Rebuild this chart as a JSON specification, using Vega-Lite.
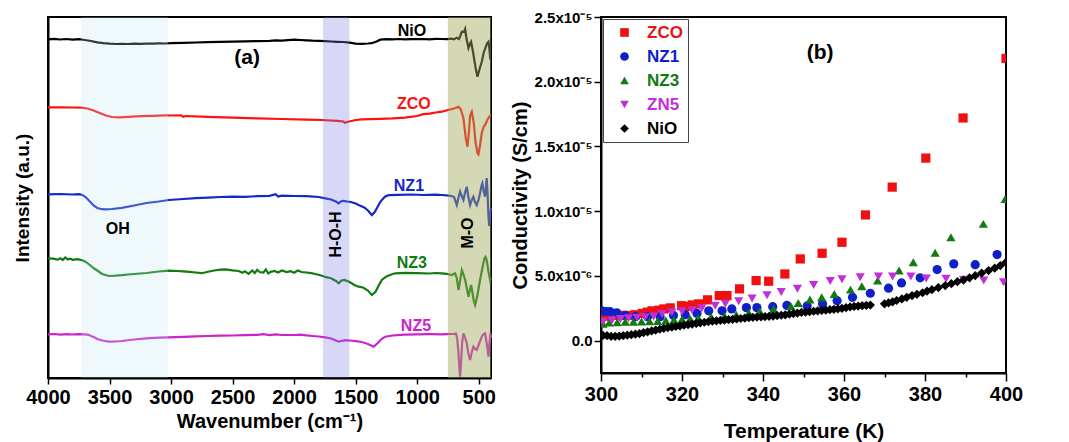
{
  "$schema": "https://vega.github.io/schema/vega-lite/v6.json",
  "background": "white",
  "padding": {"left": 12, "top": 9, "right": 5, "bottom": 0},
  "bounds": "flush",
  "spacing": 110,
  "datasets": {
    "ftir": [
      {"s":"NiO","wn":4000,"v":338.7},{"s":"NiO","wn":3950,"v":339.2},{"s":"NiO","wn":3900,"v":338.5},{"s":"NiO","wn":3850,"v":339.0},{"s":"NiO","wn":3800,"v":338.4},{"s":"NiO","wn":3750,"v":338.8},{"s":"NiO","wn":3700,"v":338.0},{"s":"NiO","wn":3650,"v":337.0},{"s":"NiO","wn":3600,"v":335.6},{"s":"NiO","wn":3550,"v":334.8},{"s":"NiO","wn":3500,"v":334.3},{"s":"NiO","wn":3450,"v":334.0},{"s":"NiO","wn":3400,"v":334.2},{"s":"NiO","wn":3350,"v":334.0},{"s":"NiO","wn":3300,"v":334.3},{"s":"NiO","wn":3250,"v":334.1},{"s":"NiO","wn":3200,"v":334.4},{"s":"NiO","wn":3150,"v":334.3},{"s":"NiO","wn":3100,"v":334.6},{"s":"NiO","wn":3050,"v":334.5},{"s":"NiO","wn":3000,"v":334.8},{"s":"NiO","wn":2900,"v":335.2},{"s":"NiO","wn":2800,"v":335.5},{"s":"NiO","wn":2700,"v":335.8},{"s":"NiO","wn":2600,"v":336.1},{"s":"NiO","wn":2500,"v":336.3},{"s":"NiO","wn":2400,"v":336.6},{"s":"NiO","wn":2300,"v":336.9},{"s":"NiO","wn":2200,"v":337.2},{"s":"NiO","wn":2150,"v":337.6},{"s":"NiO","wn":2100,"v":337.3},{"s":"NiO","wn":2050,"v":337.9},{"s":"NiO","wn":2000,"v":338.3},{"s":"NiO","wn":1950,"v":338.0},{"s":"NiO","wn":1900,"v":337.6},{"s":"NiO","wn":1850,"v":337.3},{"s":"NiO","wn":1800,"v":337.2},{"s":"NiO","wn":1750,"v":336.8},{"s":"NiO","wn":1700,"v":336.5},{"s":"NiO","wn":1650,"v":336.2},{"s":"NiO","wn":1600,"v":336.0},{"s":"NiO","wn":1550,"v":335.3},{"s":"NiO","wn":1500,"v":334.3},{"s":"NiO","wn":1450,"v":334.2},{"s":"NiO","wn":1400,"v":334.5},{"s":"NiO","wn":1370,"v":334.8},{"s":"NiO","wn":1330,"v":336.5},{"s":"NiO","wn":1300,"v":338.3},{"s":"NiO","wn":1250,"v":338.8},{"s":"NiO","wn":1200,"v":338.7},{"s":"NiO","wn":1150,"v":339.0},{"s":"NiO","wn":1100,"v":338.6},{"s":"NiO","wn":1050,"v":338.9},{"s":"NiO","wn":1000,"v":338.8},{"s":"NiO","wn":950,"v":339.0},{"s":"NiO","wn":900,"v":338.7},{"s":"NiO","wn":850,"v":339.2},{"s":"NiO","wn":800,"v":339.0},{"s":"NiO","wn":760,"v":338.8},{"s":"NiO","wn":720,"v":339.3},{"s":"NiO","wn":700,"v":338.6},{"s":"NiO","wn":680,"v":340.3},{"s":"NiO","wn":660,"v":339.0},{"s":"NiO","wn":650,"v":342.0},{"s":"NiO","wn":637,"v":346.3},{"s":"NiO","wn":620,"v":346.0},{"s":"NiO","wn":610,"v":349.0},{"s":"NiO","wn":600,"v":340.0},{"s":"NiO","wn":583,"v":330.0},{"s":"NiO","wn":572,"v":334.0},{"s":"NiO","wn":562,"v":336.3},{"s":"NiO","wn":552,"v":330.0},{"s":"NiO","wn":542,"v":323.0},{"s":"NiO","wn":525,"v":310.0},{"s":"NiO","wn":510,"v":301.3},{"s":"NiO","wn":495,"v":308.0},{"s":"NiO","wn":475,"v":316.3},{"s":"NiO","wn":460,"v":325.0},{"s":"NiO","wn":442,"v":331.3},{"s":"NiO","wn":430,"v":335.0},{"s":"NiO","wn":420,"v":336.3},{"s":"NiO","wn":412,"v":328.0},{"s":"NiO","wn":407,"v":319.7},{"s":"NiO","wn":400,"v":318.0},

      {"s":"ZCO","wn":4000,"v":270.7},{"s":"ZCO","wn":3900,"v":270.6},{"s":"ZCO","wn":3800,"v":270.5},{"s":"ZCO","wn":3730,"v":270.3},{"s":"ZCO","wn":3680,"v":269.5},{"s":"ZCO","wn":3630,"v":267.5},{"s":"ZCO","wn":3580,"v":265.0},{"s":"ZCO","wn":3530,"v":262.5},{"s":"ZCO","wn":3480,"v":261.0},{"s":"ZCO","wn":3424,"v":260.7},{"s":"ZCO","wn":3350,"v":261.2},{"s":"ZCO","wn":3250,"v":261.8},{"s":"ZCO","wn":3150,"v":262.2},{"s":"ZCO","wn":3050,"v":262.6},{"s":"ZCO","wn":3000,"v":262.5},{"s":"ZCO","wn":2920,"v":262.7},{"s":"ZCO","wn":2900,"v":261.2},{"s":"ZCO","wn":2880,"v":262.0},{"s":"ZCO","wn":2700,"v":261.2},{"s":"ZCO","wn":2500,"v":260.4},{"s":"ZCO","wn":2300,"v":259.6},{"s":"ZCO","wn":2100,"v":259.0},{"s":"ZCO","wn":1900,"v":258.3},{"s":"ZCO","wn":1775,"v":258.0},{"s":"ZCO","wn":1650,"v":257.2},{"s":"ZCO","wn":1600,"v":256.5},{"s":"ZCO","wn":1587,"v":255.3},{"s":"ZCO","wn":1560,"v":256.2},{"s":"ZCO","wn":1500,"v":258.0},{"s":"ZCO","wn":1449,"v":258.7},{"s":"ZCO","wn":1300,"v":259.2},{"s":"ZCO","wn":1200,"v":259.6},{"s":"ZCO","wn":1100,"v":260.4},{"s":"ZCO","wn":1000,"v":262.0},{"s":"ZCO","wn":950,"v":263.8},{"s":"ZCO","wn":900,"v":264.3},{"s":"ZCO","wn":850,"v":265.5},{"s":"ZCO","wn":800,"v":266.3},{"s":"ZCO","wn":750,"v":268.0},{"s":"ZCO","wn":700,"v":269.5},{"s":"ZCO","wn":664,"v":271.3},{"s":"ZCO","wn":645,"v":268.5},{"s":"ZCO","wn":624,"v":259.7},{"s":"ZCO","wn":605,"v":240.0},{"s":"ZCO","wn":591,"v":231.3},{"s":"ZCO","wn":580,"v":245.0},{"s":"ZCO","wn":570,"v":262.0},{"s":"ZCO","wn":556,"v":266.3},{"s":"ZCO","wn":540,"v":255.0},{"s":"ZCO","wn":525,"v":235.0},{"s":"ZCO","wn":510,"v":225.0},{"s":"ZCO","wn":502,"v":223.7},{"s":"ZCO","wn":490,"v":232.0},{"s":"ZCO","wn":475,"v":245.0},{"s":"ZCO","wn":460,"v":251.0},{"s":"ZCO","wn":448,"v":253.0},{"s":"ZCO","wn":430,"v":258.0},{"s":"ZCO","wn":415,"v":261.0},{"s":"ZCO","wn":400,"v":263.0},

      {"s":"NZ1","wn":4000,"v":183.7},{"s":"NZ1","wn":3900,"v":184.0},{"s":"NZ1","wn":3800,"v":183.5},{"s":"NZ1","wn":3750,"v":183.8},{"s":"NZ1","wn":3720,"v":183.0},{"s":"NZ1","wn":3690,"v":180.5},{"s":"NZ1","wn":3660,"v":176.5},{"s":"NZ1","wn":3630,"v":172.5},{"s":"NZ1","wn":3600,"v":170.0},{"s":"NZ1","wn":3560,"v":168.8},{"s":"NZ1","wn":3530,"v":168.7},{"s":"NZ1","wn":3480,"v":169.0},{"s":"NZ1","wn":3400,"v":170.2},{"s":"NZ1","wn":3300,"v":172.5},{"s":"NZ1","wn":3200,"v":175.0},{"s":"NZ1","wn":3100,"v":176.5},{"s":"NZ1","wn":3018,"v":178.0},{"s":"NZ1","wn":2900,"v":179.0},{"s":"NZ1","wn":2800,"v":179.8},{"s":"NZ1","wn":2700,"v":180.3},{"s":"NZ1","wn":2600,"v":181.0},{"s":"NZ1","wn":2500,"v":181.3},{"s":"NZ1","wn":2400,"v":181.2},{"s":"NZ1","wn":2300,"v":181.8},{"s":"NZ1","wn":2200,"v":182.2},{"s":"NZ1","wn":2150,"v":183.8},{"s":"NZ1","wn":2130,"v":181.5},{"s":"NZ1","wn":2100,"v":182.4},{"s":"NZ1","wn":2000,"v":182.0},{"s":"NZ1","wn":1900,"v":181.8},{"s":"NZ1","wn":1800,"v":181.0},{"s":"NZ1","wn":1747,"v":179.7},{"s":"NZ1","wn":1700,"v":178.5},{"s":"NZ1","wn":1660,"v":176.5},{"s":"NZ1","wn":1638,"v":174.7},{"s":"NZ1","wn":1620,"v":176.5},{"s":"NZ1","wn":1600,"v":177.2},{"s":"NZ1","wn":1570,"v":176.5},{"s":"NZ1","wn":1540,"v":176.0},{"s":"NZ1","wn":1500,"v":174.5},{"s":"NZ1","wn":1476,"v":173.0},{"s":"NZ1","wn":1430,"v":170.5},{"s":"NZ1","wn":1400,"v":167.5},{"s":"NZ1","wn":1368,"v":163.0},{"s":"NZ1","wn":1345,"v":166.0},{"s":"NZ1","wn":1320,"v":171.5},{"s":"NZ1","wn":1300,"v":176.0},{"s":"NZ1","wn":1287,"v":178.0},{"s":"NZ1","wn":1260,"v":181.5},{"s":"NZ1","wn":1230,"v":182.8},{"s":"NZ1","wn":1150,"v":183.2},{"s":"NZ1","wn":1050,"v":183.5},{"s":"NZ1","wn":950,"v":183.0},{"s":"NZ1","wn":850,"v":183.4},{"s":"NZ1","wn":800,"v":183.0},{"s":"NZ1","wn":760,"v":182.6},{"s":"NZ1","wn":720,"v":182.0},{"s":"NZ1","wn":700,"v":181.0},{"s":"NZ1","wn":678,"v":173.0},{"s":"NZ1","wn":665,"v":180.0},{"s":"NZ1","wn":651,"v":186.3},{"s":"NZ1","wn":638,"v":182.0},{"s":"NZ1","wn":624,"v":178.0},{"s":"NZ1","wn":610,"v":186.0},{"s":"NZ1","wn":597,"v":191.3},{"s":"NZ1","wn":585,"v":182.0},{"s":"NZ1","wn":570,"v":173.0},{"s":"NZ1","wn":556,"v":178.0},{"s":"NZ1","wn":543,"v":181.3},{"s":"NZ1","wn":530,"v":176.0},{"s":"NZ1","wn":516,"v":173.0},{"s":"NZ1","wn":502,"v":178.0},{"s":"NZ1","wn":489,"v":184.7},{"s":"NZ1","wn":478,"v":192.0},{"s":"NZ1","wn":470,"v":194.7},{"s":"NZ1","wn":460,"v":187.0},{"s":"NZ1","wn":448,"v":181.3},{"s":"NZ1","wn":442,"v":190.0},{"s":"NZ1","wn":435,"v":200.0},{"s":"NZ1","wn":428,"v":185.0},{"s":"NZ1","wn":420,"v":160.0},{"s":"NZ1","wn":414,"v":152.0},{"s":"NZ1","wn":405,"v":165.0},{"s":"NZ1","wn":400,"v":170.0},

      {"s":"NZ3","wn":4000,"v":119.7},{"s":"NZ3","wn":3960,"v":119.3},{"s":"NZ3","wn":3920,"v":118.4},{"s":"NZ3","wn":3900,"v":119.8},{"s":"NZ3","wn":3880,"v":118.0},{"s":"NZ3","wn":3860,"v":120.5},{"s":"NZ3","wn":3840,"v":118.6},{"s":"NZ3","wn":3820,"v":119.4},{"s":"NZ3","wn":3800,"v":118.2},{"s":"NZ3","wn":3760,"v":118.8},{"s":"NZ3","wn":3720,"v":117.6},{"s":"NZ3","wn":3695,"v":116.3},{"s":"NZ3","wn":3660,"v":113.0},{"s":"NZ3","wn":3630,"v":110.0},{"s":"NZ3","wn":3600,"v":107.5},{"s":"NZ3","wn":3560,"v":104.0},{"s":"NZ3","wn":3505,"v":102.0},{"s":"NZ3","wn":3450,"v":102.3},{"s":"NZ3","wn":3400,"v":102.8},{"s":"NZ3","wn":3350,"v":103.5},{"s":"NZ3","wn":3300,"v":104.0},{"s":"NZ3","wn":3200,"v":105.0},{"s":"NZ3","wn":3100,"v":106.5},{"s":"NZ3","wn":3018,"v":107.3},{"s":"NZ3","wn":2950,"v":107.0},{"s":"NZ3","wn":2900,"v":106.6},{"s":"NZ3","wn":2850,"v":106.2},{"s":"NZ3","wn":2800,"v":105.5},{"s":"NZ3","wn":2750,"v":104.8},{"s":"NZ3","wn":2700,"v":106.2},{"s":"NZ3","wn":2650,"v":107.5},{"s":"NZ3","wn":2600,"v":108.3},{"s":"NZ3","wn":2558,"v":108.7},{"s":"NZ3","wn":2500,"v":107.6},{"s":"NZ3","wn":2450,"v":107.0},{"s":"NZ3","wn":2420,"v":105.2},{"s":"NZ3","wn":2400,"v":106.6},{"s":"NZ3","wn":2370,"v":104.2},{"s":"NZ3","wn":2340,"v":107.5},{"s":"NZ3","wn":2320,"v":105.0},{"s":"NZ3","wn":2300,"v":108.2},{"s":"NZ3","wn":2280,"v":106.0},{"s":"NZ3","wn":2250,"v":105.4},{"s":"NZ3","wn":2230,"v":108.5},{"s":"NZ3","wn":2210,"v":104.5},{"s":"NZ3","wn":2190,"v":106.2},{"s":"NZ3","wn":2160,"v":107.0},{"s":"NZ3","wn":2130,"v":105.5},{"s":"NZ3","wn":2100,"v":107.5},{"s":"NZ3","wn":2060,"v":106.0},{"s":"NZ3","wn":2030,"v":106.8},{"s":"NZ3","wn":2000,"v":105.2},{"s":"NZ3","wn":1970,"v":107.5},{"s":"NZ3","wn":1940,"v":106.0},{"s":"NZ3","wn":1900,"v":105.5},{"s":"NZ3","wn":1860,"v":104.8},{"s":"NZ3","wn":1828,"v":104.0},{"s":"NZ3","wn":1780,"v":102.5},{"s":"NZ3","wn":1740,"v":100.8},{"s":"NZ3","wn":1700,"v":99.8},{"s":"NZ3","wn":1660,"v":97.0},{"s":"NZ3","wn":1638,"v":94.7},{"s":"NZ3","wn":1615,"v":97.5},{"s":"NZ3","wn":1590,"v":98.0},{"s":"NZ3","wn":1550,"v":96.0},{"s":"NZ3","wn":1510,"v":93.0},{"s":"NZ3","wn":1476,"v":91.3},{"s":"NZ3","wn":1440,"v":90.5},{"s":"NZ3","wn":1400,"v":87.5},{"s":"NZ3","wn":1368,"v":83.0},{"s":"NZ3","wn":1340,"v":86.0},{"s":"NZ3","wn":1310,"v":93.0},{"s":"NZ3","wn":1287,"v":98.0},{"s":"NZ3","wn":1250,"v":101.5},{"s":"NZ3","wn":1200,"v":104.0},{"s":"NZ3","wn":1178,"v":104.7},{"s":"NZ3","wn":1100,"v":105.2},{"s":"NZ3","wn":1000,"v":104.8},{"s":"NZ3","wn":900,"v":104.5},{"s":"NZ3","wn":850,"v":105.0},{"s":"NZ3","wn":800,"v":104.7},{"s":"NZ3","wn":760,"v":104.2},{"s":"NZ3","wn":720,"v":103.0},{"s":"NZ3","wn":692,"v":104.7},{"s":"NZ3","wn":678,"v":100.0},{"s":"NZ3","wn":664,"v":88.0},{"s":"NZ3","wn":650,"v":98.0},{"s":"NZ3","wn":637,"v":108.0},{"s":"NZ3","wn":625,"v":104.0},{"s":"NZ3","wn":610,"v":98.0},{"s":"NZ3","wn":597,"v":90.0},{"s":"NZ3","wn":583,"v":81.3},{"s":"NZ3","wn":572,"v":88.0},{"s":"NZ3","wn":562,"v":93.0},{"s":"NZ3","wn":550,"v":85.0},{"s":"NZ3","wn":540,"v":77.0},{"s":"NZ3","wn":529,"v":73.0},{"s":"NZ3","wn":510,"v":83.0},{"s":"NZ3","wn":489,"v":98.0},{"s":"NZ3","wn":470,"v":110.0},{"s":"NZ3","wn":453,"v":119.7},{"s":"NZ3","wn":445,"v":121.0},{"s":"NZ3","wn":435,"v":118.0},{"s":"NZ3","wn":420,"v":106.0},{"s":"NZ3","wn":407,"v":98.0},{"s":"NZ3","wn":400,"v":100.0},

      {"s":"NZ5","wn":4000,"v":43.7},{"s":"NZ5","wn":3950,"v":44.0},{"s":"NZ5","wn":3900,"v":43.4},{"s":"NZ5","wn":3850,"v":43.9},{"s":"NZ5","wn":3800,"v":43.5},{"s":"NZ5","wn":3750,"v":43.8},{"s":"NZ5","wn":3700,"v":43.7},{"s":"NZ5","wn":3670,"v":43.2},{"s":"NZ5","wn":3650,"v":42.0},{"s":"NZ5","wn":3620,"v":40.5},{"s":"NZ5","wn":3600,"v":39.0},{"s":"NZ5","wn":3550,"v":37.2},{"s":"NZ5","wn":3505,"v":36.3},{"s":"NZ5","wn":3450,"v":36.5},{"s":"NZ5","wn":3400,"v":37.0},{"s":"NZ5","wn":3300,"v":38.5},{"s":"NZ5","wn":3200,"v":39.6},{"s":"NZ5","wn":3100,"v":40.3},{"s":"NZ5","wn":3018,"v":40.7},{"s":"NZ5","wn":2900,"v":41.2},{"s":"NZ5","wn":2800,"v":41.6},{"s":"NZ5","wn":2700,"v":42.0},{"s":"NZ5","wn":2600,"v":42.3},{"s":"NZ5","wn":2500,"v":42.5},{"s":"NZ5","wn":2400,"v":42.8},{"s":"NZ5","wn":2300,"v":43.2},{"s":"NZ5","wn":2250,"v":43.8},{"s":"NZ5","wn":2200,"v":42.9},{"s":"NZ5","wn":2150,"v":43.7},{"s":"NZ5","wn":2100,"v":43.0},{"s":"NZ5","wn":2000,"v":43.0},{"s":"NZ5","wn":1950,"v":43.4},{"s":"NZ5","wn":1900,"v":42.6},{"s":"NZ5","wn":1850,"v":42.0},{"s":"NZ5","wn":1800,"v":41.5},{"s":"NZ5","wn":1747,"v":40.7},{"s":"NZ5","wn":1700,"v":39.5},{"s":"NZ5","wn":1660,"v":37.5},{"s":"NZ5","wn":1638,"v":36.3},{"s":"NZ5","wn":1610,"v":37.2},{"s":"NZ5","wn":1580,"v":37.8},{"s":"NZ5","wn":1550,"v":37.5},{"s":"NZ5","wn":1500,"v":36.8},{"s":"NZ5","wn":1450,"v":36.0},{"s":"NZ5","wn":1400,"v":34.0},{"s":"NZ5","wn":1354,"v":31.3},{"s":"NZ5","wn":1320,"v":35.0},{"s":"NZ5","wn":1290,"v":39.0},{"s":"NZ5","wn":1260,"v":41.3},{"s":"NZ5","wn":1200,"v":42.5},{"s":"NZ5","wn":1100,"v":43.3},{"s":"NZ5","wn":1000,"v":43.7},{"s":"NZ5","wn":900,"v":43.8},{"s":"NZ5","wn":800,"v":43.7},{"s":"NZ5","wn":760,"v":43.9},{"s":"NZ5","wn":720,"v":44.0},{"s":"NZ5","wn":700,"v":44.0},{"s":"NZ5","wn":685,"v":44.5},{"s":"NZ5","wn":675,"v":40.0},{"s":"NZ5","wn":664,"v":24.7},{"s":"NZ5","wn":657,"v":10.0},{"s":"NZ5","wn":651,"v":1.3},{"s":"NZ5","wn":645,"v":12.0},{"s":"NZ5","wn":635,"v":35.0},{"s":"NZ5","wn":624,"v":44.7},{"s":"NZ5","wn":610,"v":40.0},{"s":"NZ5","wn":597,"v":34.7},{"s":"NZ5","wn":585,"v":25.0},{"s":"NZ5","wn":570,"v":18.0},{"s":"NZ5","wn":556,"v":26.0},{"s":"NZ5","wn":543,"v":31.3},{"s":"NZ5","wn":530,"v":29.0},{"s":"NZ5","wn":516,"v":28.0},{"s":"NZ5","wn":495,"v":35.0},{"s":"NZ5","wn":475,"v":41.3},{"s":"NZ5","wn":460,"v":44.0},{"s":"NZ5","wn":448,"v":44.7},{"s":"NZ5","wn":435,"v":35.0},{"s":"NZ5","wn":420,"v":21.3},{"s":"NZ5","wn":412,"v":35.0},{"s":"NZ5","wn":405,"v":44.7},{"s":"NZ5","wn":400,"v":40.0}
    ],
    "ftirLabels": [
      {"s":"NiO","wn":1043,"v":347},
      {"s":"ZCO","wn":1027,"v":274},
      {"s":"NZ1","wn":1067,"v":192.5},
      {"s":"NZ3","wn":1043,"v":115.5},
      {"s":"NZ5","wn":1010,"v":52.5}
    ],
    "bands": [
      {"band":"OH","a":3730,"b":3025},
      {"band":"H-O-H","a":1765,"b":1550},
      {"band":"M-O","a":751,"b":400}
    ],
    "notesA": [
      {"t":"(a)","wn":2382,"v":320.5,"rot":"no"},
      {"t":"OH","wn":3433,"v":149,"rot":"no"},
      {"t":"H-O-H","wn":1660,"v":143.5,"rot":"yes"},
      {"t":"M-O","wn":584,"v":145,"rot":"yes"}
    ],
    "cond": [
      {"m":"ZCO","T":300.5,"c":1.90e-6},{"m":"ZCO","T":302.0,"c":1.90e-6},{"m":"ZCO","T":304.4,"c":1.95e-6},{"m":"ZCO","T":306.5,"c":1.95e-6},{"m":"ZCO","T":308.5,"c":2.00e-6},{"m":"ZCO","T":310.2,"c":2.10e-6},{"m":"ZCO","T":311.4,"c":2.20e-6},{"m":"ZCO","T":312.6,"c":2.30e-6},{"m":"ZCO","T":314.3,"c":2.35e-6},{"m":"ZCO","T":315.5,"c":2.45e-6},{"m":"ZCO","T":317.1,"c":2.53e-6},{"m":"ZCO","T":319.9,"c":2.70e-6},{"m":"ZCO","T":320.8,"c":2.63e-6},{"m":"ZCO","T":322.5,"c":2.76e-6},{"m":"ZCO","T":324.1,"c":2.84e-6},{"m":"ZCO","T":326.3,"c":3.15e-6},{"m":"ZCO","T":329.2,"c":3.48e-6},{"m":"ZCO","T":331.1,"c":3.48e-6},{"m":"ZCO","T":334.2,"c":4.00e-6},{"m":"ZCO","T":338.3,"c":4.64e-6},{"m":"ZCO","T":341.4,"c":4.59e-6},{"m":"ZCO","T":345.4,"c":5.15e-6},{"m":"ZCO","T":349.2,"c":6.31e-6},{"m":"ZCO","T":354.6,"c":6.75e-6},{"m":"ZCO","T":359.5,"c":7.60e-6},{"m":"ZCO","T":365.3,"c":9.71e-6},{"m":"ZCO","T":371.9,"c":11.86e-6},{"m":"ZCO","T":380.2,"c":14.10e-6},{"m":"ZCO","T":389.4,"c":17.20e-6},{"m":"ZCO","T":400.0,"c":21.80e-6},

      {"m":"NZ1","T":300.2,"c":2.30e-6},{"m":"NZ1","T":301.2,"c":2.25e-6},{"m":"NZ1","T":302.2,"c":2.25e-6},{"m":"NZ1","T":303.9,"c":2.15e-6},{"m":"NZ1","T":306.0,"c":1.95e-6},{"m":"NZ1","T":308.5,"c":1.85e-6},{"m":"NZ1","T":311.5,"c":1.85e-6},{"m":"NZ1","T":314.6,"c":1.85e-6},{"m":"NZ1","T":317.9,"c":1.95e-6},{"m":"NZ1","T":320.8,"c":2.00e-6},{"m":"NZ1","T":323.7,"c":2.10e-6},{"m":"NZ1","T":326.6,"c":2.30e-6},{"m":"NZ1","T":329.9,"c":2.30e-6},{"m":"NZ1","T":332.3,"c":2.45e-6},{"m":"NZ1","T":335.9,"c":2.55e-6},{"m":"NZ1","T":338.5,"c":2.55e-6},{"m":"NZ1","T":342.4,"c":2.62e-6},{"m":"NZ1","T":345.9,"c":2.72e-6},{"m":"NZ1","T":350.9,"c":2.68e-6},{"m":"NZ1","T":354.7,"c":2.84e-6},{"m":"NZ1","T":358.3,"c":3.09e-6},{"m":"NZ1","T":362.1,"c":3.35e-6},{"m":"NZ1","T":366.5,"c":3.66e-6},{"m":"NZ1","T":371.0,"c":4.05e-6},{"m":"NZ1","T":374.2,"c":4.46e-6},{"m":"NZ1","T":378.8,"c":4.85e-6},{"m":"NZ1","T":383.0,"c":5.49e-6},{"m":"NZ1","T":387.1,"c":5.93e-6},{"m":"NZ1","T":392.4,"c":5.87e-6},{"m":"NZ1","T":397.8,"c":6.65e-6},

      {"m":"NZ3","T":300.5,"c":1.30e-6},{"m":"NZ3","T":302.0,"c":1.40e-6},{"m":"NZ3","T":304.0,"c":1.42e-6},{"m":"NZ3","T":306.0,"c":1.45e-6},{"m":"NZ3","T":308.0,"c":1.45e-6},{"m":"NZ3","T":310.0,"c":1.48e-6},{"m":"NZ3","T":312.0,"c":1.50e-6},{"m":"NZ3","T":314.0,"c":1.52e-6},{"m":"NZ3","T":316.0,"c":1.55e-6},{"m":"NZ3","T":318.0,"c":1.60e-6},{"m":"NZ3","T":320.0,"c":1.65e-6},{"m":"NZ3","T":322.0,"c":1.70e-6},{"m":"NZ3","T":324.0,"c":1.75e-6},{"m":"NZ3","T":327.2,"c":1.85e-6},{"m":"NZ3","T":330.5,"c":1.90e-6},{"m":"NZ3","T":333.4,"c":2.00e-6},{"m":"NZ3","T":336.5,"c":2.15e-6},{"m":"NZ3","T":339.2,"c":2.27e-6},{"m":"NZ3","T":342.6,"c":2.45e-6},{"m":"NZ3","T":346.9,"c":2.66e-6},{"m":"NZ3","T":348.7,"c":2.91e-6},{"m":"NZ3","T":351.6,"c":3.17e-6},{"m":"NZ3","T":354.5,"c":3.35e-6},{"m":"NZ3","T":357.6,"c":3.61e-6},{"m":"NZ3","T":361.6,"c":3.94e-6},{"m":"NZ3","T":364.4,"c":4.20e-6},{"m":"NZ3","T":368.3,"c":4.64e-6},{"m":"NZ3","T":373.6,"c":5.41e-6},{"m":"NZ3","T":377.1,"c":6.06e-6},{"m":"NZ3","T":382.5,"c":6.78e-6},{"m":"NZ3","T":386.4,"c":7.99e-6},{"m":"NZ3","T":394.4,"c":9.02e-6},{"m":"NZ3","T":399.8,"c":10.95e-6},

      {"m":"ZN5","T":300.5,"c":1.45e-6},{"m":"ZN5","T":302.7,"c":1.55e-6},{"m":"ZN5","T":304.8,"c":1.68e-6},{"m":"ZN5","T":306.8,"c":1.73e-6},{"m":"ZN5","T":308.9,"c":1.76e-6},{"m":"ZN5","T":310.9,"c":1.81e-6},{"m":"ZN5","T":313.0,"c":1.86e-6},{"m":"ZN5","T":315.1,"c":2.06e-6},{"m":"ZN5","T":317.5,"c":2.19e-6},{"m":"ZN5","T":320.0,"c":2.25e-6},{"m":"ZN5","T":322.5,"c":2.35e-6},{"m":"ZN5","T":324.9,"c":2.50e-6},{"m":"ZN5","T":328.2,"c":2.70e-6},{"m":"ZN5","T":330.7,"c":2.85e-6},{"m":"ZN5","T":334.0,"c":3.05e-6},{"m":"ZN5","T":337.3,"c":3.25e-6},{"m":"ZN5","T":341.0,"c":3.50e-6},{"m":"ZN5","T":344.5,"c":3.75e-6},{"m":"ZN5","T":348.5,"c":4.00e-6},{"m":"ZN5","T":352.5,"c":4.30e-6},{"m":"ZN5","T":356.6,"c":4.60e-6},{"m":"ZN5","T":359.5,"c":4.75e-6},{"m":"ZN5","T":364.0,"c":4.90e-6},{"m":"ZN5","T":368.5,"c":4.95e-6},{"m":"ZN5","T":372.0,"c":4.95e-6},{"m":"ZN5","T":376.5,"c":4.95e-6},{"m":"ZN5","T":380.3,"c":4.80e-6},{"m":"ZN5","T":385.2,"c":4.78e-6},{"m":"ZN5","T":389.5,"c":4.70e-6},{"m":"ZN5","T":394.5,"c":4.65e-6},{"m":"ZN5","T":399.4,"c":4.51e-6},

      {"m":"NiO","T":300.5,"c":0.40e-6},{"m":"NiO","T":301.5,"c":0.38e-6},{"m":"NiO","T":302.5,"c":0.33e-6},{"m":"NiO","T":303.5,"c":0.33e-6},{"m":"NiO","T":304.5,"c":0.35e-6},{"m":"NiO","T":305.5,"c":0.38e-6},{"m":"NiO","T":306.5,"c":0.42e-6},{"m":"NiO","T":307.5,"c":0.46e-6},{"m":"NiO","T":308.5,"c":0.50e-6},{"m":"NiO","T":309.5,"c":0.55e-6},{"m":"NiO","T":310.5,"c":0.62e-6},{"m":"NiO","T":311.5,"c":0.68e-6},{"m":"NiO","T":312.5,"c":0.75e-6},{"m":"NiO","T":313.5,"c":0.82e-6},{"m":"NiO","T":314.5,"c":0.88e-6},{"m":"NiO","T":315.5,"c":0.95e-6},{"m":"NiO","T":316.5,"c":1.01e-6},{"m":"NiO","T":317.5,"c":1.05e-6},{"m":"NiO","T":318.5,"c":1.10e-6},{"m":"NiO","T":319.5,"c":1.14e-6},{"m":"NiO","T":320.5,"c":1.19e-6},{"m":"NiO","T":321.5,"c":1.23e-6},{"m":"NiO","T":322.5,"c":1.28e-6},{"m":"NiO","T":323.5,"c":1.33e-6},{"m":"NiO","T":324.5,"c":1.38e-6},{"m":"NiO","T":325.5,"c":1.42e-6},{"m":"NiO","T":326.5,"c":1.46e-6},{"m":"NiO","T":327.5,"c":1.50e-6},{"m":"NiO","T":328.5,"c":1.53e-6},{"m":"NiO","T":329.5,"c":1.56e-6},{"m":"NiO","T":330.5,"c":1.59e-6},{"m":"NiO","T":331.5,"c":1.62e-6},{"m":"NiO","T":332.5,"c":1.65e-6},{"m":"NiO","T":333.5,"c":1.68e-6},{"m":"NiO","T":334.5,"c":1.71e-6},{"m":"NiO","T":335.5,"c":1.74e-6},{"m":"NiO","T":336.5,"c":1.77e-6},{"m":"NiO","T":337.5,"c":1.80e-6},{"m":"NiO","T":338.5,"c":1.82e-6},{"m":"NiO","T":339.5,"c":1.84e-6},{"m":"NiO","T":340.5,"c":1.86e-6},{"m":"NiO","T":341.5,"c":1.88e-6},{"m":"NiO","T":342.5,"c":1.90e-6},{"m":"NiO","T":343.5,"c":1.93e-6},{"m":"NiO","T":344.5,"c":1.96e-6},{"m":"NiO","T":345.5,"c":1.99e-6},{"m":"NiO","T":346.5,"c":2.04e-6},{"m":"NiO","T":347.5,"c":2.09e-6},{"m":"NiO","T":348.5,"c":2.13e-6},{"m":"NiO","T":349.5,"c":2.18e-6},{"m":"NiO","T":350.5,"c":2.21e-6},{"m":"NiO","T":351.5,"c":2.24e-6},{"m":"NiO","T":352.5,"c":2.27e-6},{"m":"NiO","T":353.5,"c":2.30e-6},{"m":"NiO","T":354.5,"c":2.33e-6},{"m":"NiO","T":355.5,"c":2.36e-6},{"m":"NiO","T":356.5,"c":2.39e-6},{"m":"NiO","T":357.5,"c":2.42e-6},{"m":"NiO","T":358.5,"c":2.46e-6},{"m":"NiO","T":359.5,"c":2.50e-6},{"m":"NiO","T":360.5,"c":2.55e-6},{"m":"NiO","T":361.5,"c":2.60e-6},{"m":"NiO","T":362.5,"c":2.64e-6},{"m":"NiO","T":363.5,"c":2.67e-6},{"m":"NiO","T":364.5,"c":2.70e-6},{"m":"NiO","T":365.5,"c":2.72e-6},{"m":"NiO","T":366.5,"c":2.75e-6},{"m":"NiO","T":370.0,"c":2.84e-6},{"m":"NiO","T":371.0,"c":2.92e-6},{"m":"NiO","T":372.0,"c":3.00e-6},{"m":"NiO","T":373.0,"c":3.10e-6},{"m":"NiO","T":374.3,"c":3.22e-6},{"m":"NiO","T":375.5,"c":3.35e-6},{"m":"NiO","T":376.8,"c":3.48e-6},{"m":"NiO","T":378.0,"c":3.58e-6},{"m":"NiO","T":379.4,"c":3.70e-6},{"m":"NiO","T":380.5,"c":3.82e-6},{"m":"NiO","T":381.7,"c":3.94e-6},{"m":"NiO","T":383.3,"c":4.10e-6},{"m":"NiO","T":385.0,"c":4.25e-6},{"m":"NiO","T":386.5,"c":4.40e-6},{"m":"NiO","T":388.0,"c":4.55e-6},{"m":"NiO","T":389.5,"c":4.68e-6},{"m":"NiO","T":391.0,"c":4.85e-6},{"m":"NiO","T":392.4,"c":5.02e-6},{"m":"NiO","T":394.0,"c":5.22e-6},{"m":"NiO","T":395.7,"c":5.41e-6},{"m":"NiO","T":397.2,"c":5.60e-6},{"m":"NiO","T":398.6,"c":5.80e-6},{"m":"NiO","T":400.0,"c":6.06e-6}
    ],
    "notesB": [
      {"t":"(b)","T":354.1,"c":22.2e-6}
    ]
  },
  "hconcat": [
    {
      "width": 443,
      "height": 361,
      "layer": [
        {
          "data": {"name": "ftir"},
          "mark": {"type": "line", "strokeWidth": 2.2},
          "encoding": {
            "x": {"field": "wn", "type": "quantitative",
              "scale": {"domain": [400, 4000], "reverse": true, "nice": false, "zero": false},
              "axis": {
                "values": [4000,3750,3500,3250,3000,2750,2500,2250,2000,1750,1500,1250,1000,750,500],
                "format": "d",
                "labelExpr": "datum.value % 500 === 0 ? datum.label : ''",
                "tickSize": {"condition": {"test": "datum.value % 500 === 0", "value": 6}, "value": 3},
                "labelFlush": false, "labelOverlap": false,
                "labelFontSize": 20, "labelFontWeight": "bold", "labelPadding": 3,
                "title": "Wavenumber (cm⁻¹)", "titleFontSize": 20, "titleFontWeight": "bold", "titlePadding": 4,
                "grid": false
              }
            },
            "y": {"field": "v", "type": "quantitative",
              "scale": {"domain": [0, 361], "nice": false, "zero": false},
              "axis": {"title": "Intensity (a.u.)", "labels": false, "ticks": false, "grid": false,
                "titleFontSize": 19, "titleFontWeight": "bold", "titlePadding": 16}
            },
            "color": {"field": "s", "type": "nominal",
              "scale": {"domain": ["NiO","ZCO","NZ1","NZ3","NZ5"], "range": ["#000000","#ff1010","#1428c8","#117a11","#cc22cc"]},
              "legend": null}
          }
        },
        {
          "data": {"name": "bands"},
          "transform": [{"filter": "datum.band === 'OH'"}],
          "mark": {"type": "rect", "color": "#bfe6f5", "opacity": 0.25},
          "encoding": {
            "x": {"field": "a", "type": "quantitative"},
            "x2": {"field": "b"}
          }
        },
        {
          "data": {"name": "bands"},
          "transform": [{"filter": "datum.band === 'H-O-H'"}],
          "mark": {"type": "rect", "color": "#7b7be0", "opacity": 0.3},
          "encoding": {
            "x": {"field": "a", "type": "quantitative"},
            "x2": {"field": "b"}
          }
        },
        {
          "data": {"name": "bands"},
          "transform": [{"filter": "datum.band === 'M-O'"}],
          "mark": {"type": "rect", "color": "#a0a85a", "opacity": 0.45},
          "encoding": {
            "x": {"field": "a", "type": "quantitative"},
            "x2": {"field": "b"}
          }
        },
        {
          "data": {"name": "ftirLabels"},
          "mark": {"type": "text", "fontSize": 16, "fontWeight": "bold", "baseline": "middle", "align": "center"},
          "encoding": {
            "x": {"field": "wn", "type": "quantitative"},
            "y": {"field": "v", "type": "quantitative"},
            "text": {"field": "s"},
            "color": {"field": "s", "type": "nominal", "legend": null}
          }
        },
        {
          "data": {"name": "notesA"},
          "transform": [{"filter": "datum.rot === 'no' && datum.t === '(a)'"}],
          "mark": {"type": "text", "fontSize": 21, "fontWeight": "bold", "baseline": "middle", "align": "center", "color": "black"},
          "encoding": {
            "x": {"field": "wn", "type": "quantitative"},
            "y": {"field": "v", "type": "quantitative"},
            "text": {"field": "t"}
          }
        },
        {
          "data": {"name": "notesA"},
          "transform": [{"filter": "datum.rot === 'no' && datum.t !== '(a)'"}],
          "mark": {"type": "text", "fontSize": 16, "fontWeight": "bold", "baseline": "middle", "align": "center", "color": "black"},
          "encoding": {
            "x": {"field": "wn", "type": "quantitative"},
            "y": {"field": "v", "type": "quantitative"},
            "text": {"field": "t"}
          }
        },
        {
          "data": {"name": "notesA"},
          "transform": [{"filter": "datum.rot === 'yes'"}],
          "mark": {"type": "text", "fontSize": 16, "fontWeight": "bold", "baseline": "middle", "align": "center", "angle": 270, "color": "black"},
          "encoding": {
            "x": {"field": "wn", "type": "quantitative"},
            "y": {"field": "v", "type": "quantitative"},
            "text": {"field": "t"}
          }
        }
      ]
    },
    {
      "width": 405,
      "height": 356,
      "layer": [
        {
          "data": {"name": "cond"},
          "mark": {"type": "point", "filled": true, "opacity": 1, "size": 85, "clip": true},
          "encoding": {
            "x": {"field": "T", "type": "quantitative",
              "scale": {"domain": [300, 400], "nice": false, "zero": false},
              "axis": {
                "values": [300,310,320,330,340,350,360,370,380,390,400],
                "labelExpr": "datum.value % 20 === 0 ? datum.label : ''",
                "tickSize": {"condition": {"test": "datum.value % 20 === 0", "value": 8}, "value": 4},
                "labelFlush": false, "labelOverlap": false,
                "labelFontSize": 20, "labelFontWeight": "bold", "labelPadding": 3,
                "title": "Temperature (K)", "titleFontSize": 21, "titleFontWeight": "bold", "titlePadding": 16,
                "grid": false
              }
            },
            "y": {"field": "c", "type": "quantitative",
              "scale": {"domain": [-2.5e-6, 2.5e-5], "nice": false, "zero": false},
              "axis": {
                "values": [0, 2.5e-6, 5e-6, 7.5e-6, 1e-5, 1.25e-5, 1.5e-5, 1.75e-5, 2e-5, 2.25e-5, 2.5e-5],
                "labelExpr": "round(datum.value*4e5) % 2 !== 0 ? '' : (datum.value === 0 ? '0.0' : (datum.value < 9e-6 ? format(datum.value*1e6, '.1f') + 'x10⁻⁶' : format(datum.value*1e5, '.1f') + 'x10⁻⁵'))",
                "tickSize": {"condition": {"test": "round(datum.value*4e5) % 2 === 0", "value": 7}, "value": 4},
                "labelOverlap": false, "labelFlush": false,
                "labelFontSize": 15, "labelFontWeight": "bold", "labelPadding": 2,
                "title": "Conductivity (S/cm)", "titleFontSize": 20, "titleFontWeight": "bold", "titlePadding": 4,
                "grid": false
              }
            },
            "color": {"field": "m", "type": "nominal",
              "scale": {"domain": ["ZCO","NZ1","NZ3","ZN5","NiO"], "range": ["#f01010","#1020c8","#137a13","#c030d8","#000000"]},
              "legend": {
                "orient": "top-left", "offset": 2, "title": null,
                "labelFontSize": 17, "labelFontWeight": "bold",
                "labelColor": {"expr": "datum.value === 'ZCO' ? '#f01010' : datum.value === 'NZ1' ? '#1020c8' : datum.value === 'NZ3' ? '#137a13' : datum.value === 'ZN5' ? '#c030d8' : '#000000'"},
                "symbolSize": 75, "symbolOffset": 8, "labelOffset": 14,
                "padding": 5, "rowPadding": 6,
                "strokeColor": "#444", "fillColor": "white", "symbolStrokeWidth": 0, "symbolOpacity": 1
              }
            },
            "shape": {"field": "m", "type": "nominal",
              "scale": {"domain": ["ZCO","NZ1","NZ3","ZN5","NiO"], "range": ["square","circle","triangle-up","triangle-down","diamond"]},
              "legend": null
            }
          }
        },
        {
          "data": {"name": "notesB"},
          "mark": {"type": "text", "fontSize": 21, "fontWeight": "bold", "baseline": "middle", "align": "center", "color": "black"},
          "encoding": {
            "x": {"field": "T", "type": "quantitative"},
            "y": {"field": "c", "type": "quantitative"},
            "text": {"field": "t"}
          }
        }
      ]
    }
  ],
  "resolve": {"scale": {"color": "independent", "shape": "independent", "x": "independent", "y": "independent"}},
  "config": {
    "font": "Liberation Sans",
    "view": {"stroke": "black", "strokeWidth": 2},
    "axis": {"domainColor": "black", "domainWidth": 2, "tickColor": "black", "tickWidth": 1.5, "labelColor": "black", "titleColor": "black", "labelFont": "Liberation Sans", "titleFont": "Liberation Sans"},
    "legend": {"labelFont": "Liberation Sans"},
    "text": {"font": "Liberation Sans"}
  }
}
